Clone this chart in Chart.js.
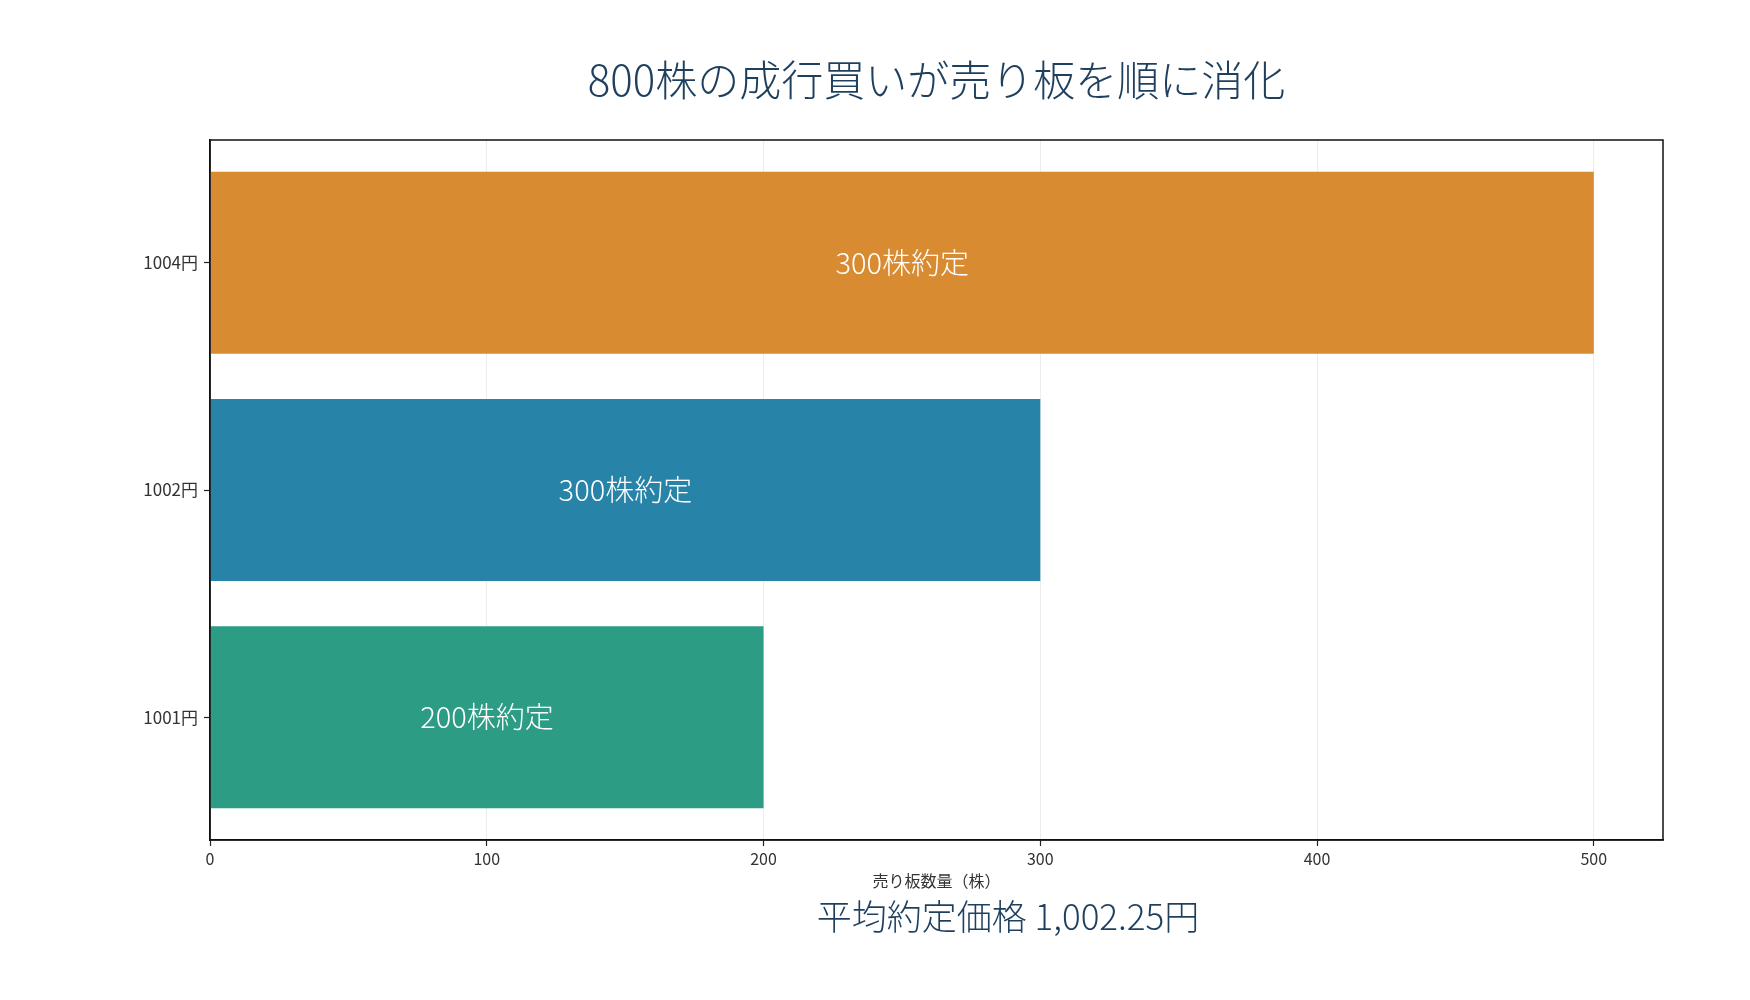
<!DOCTYPE html>
<html lang="ja">
  <head>
    <meta charset="UTF-8" />
    <title>800株の成行買いが売り板を順に消化</title>
    <style>
      html, body { margin: 0; padding: 0; background: #fff; }
      #wrap { width: 1750px; height: 1000px; }
    </style>
  </head>
  <body>
    <div id="wrap"><canvas id="myChart" width="1750" height="1000"></canvas></div>

    <script src="https://cdn.jsdelivr.net/npm/chart.js"></script>
    <script>
      // data (bottom to top)
      const priceLabels = ["1001円", "1002円", "1004円"];
      const boardQty = [200, 300, 500];
      const filledQty = [200, 300, 300];
      const barColors = ["#2c9c84", "#2883a9", "#d98b32"];
      const xTicks = [0, 100, 200, 300, 400, 500];
      const avgText = "平均約定価格 1,002.25円";

      const FONT = '"Noto Sans CJK JP", "Noto Sans", sans-serif';
      const navy = "#1e3f5e";

      // labels inside the bars + frame + average price note
      const barText = {
        id: "barText",
        afterDatasetsDraw(chart) {
          const c = chart.ctx;
          const meta = chart.getDatasetMeta(0);
          c.save();
          c.font = "300 29px " + FONT;
          c.fillStyle = "#ffffff";
          c.textAlign = "center";
          c.textBaseline = "middle";
          meta.data.forEach((bar, i) => {
            const p = bar.getCenterPoint();
            c.fillText(filledQty[i] + "株約定", p.x, p.y);
          });
          c.restore();
        },
        afterDraw(chart) {
          const c = chart.ctx;
          const a = chart.chartArea;
          c.save();
          c.strokeStyle = "#111";
          c.lineWidth = 1.5;
          c.strokeRect(a.left, a.top, a.right - a.left, a.bottom - a.top);
          c.font = "300 35px " + FONT;
          c.fillStyle = navy;
          c.textAlign = "center";
          c.textBaseline = "middle";
          c.fillText(avgText, chart.width * 0.576, 917);
          c.restore();
        },
      };

      const ctx = document.getElementById("myChart").getContext("2d");
      const myChart = new Chart(ctx, {
        type: "bar",
        data: {
          datasets: [
            {
              data: boardQty.map((v, i) => ({ x: v, y: i })),
              backgroundColor: barColors,
              borderWidth: 0,
              categoryPercentage: 1.0,
              barPercentage: 0.8,
            },
          ],
        },
        options: {
          indexAxis: "y",
          responsive: false,
          animation: false,
          layout: { padding: { left: 0, right: 87, top: 0, bottom: 103.4 } },
          scales: {
            x: {
              type: "linear",
              min: 0,
              max: 525,
              afterBuildTicks: (axis) => {
                axis.ticks = xTicks.map((v) => ({ value: v }));
              },
              afterFit: (axis) => {
                axis.height = 56.6;
              },
              grid: {
                color: "#ececec",
                lineWidth: 1,
                drawTicks: true,
                tickLength: 6,
                tickColor: "#222",
                tickWidth: 1.2,
              },
              border: { display: true, color: "#111", width: 1.5 },
              ticks: {
                color: "#333",
                padding: 3,
                maxRotation: 0,
                font: { family: FONT, size: 16 },
              },
              title: {
                display: true,
                text: "売り板数量（株）",
                color: "#333",
                padding: { top: 0, bottom: 6 },
                font: { family: FONT, size: 16 },
              },
            },
            y: {
              type: "linear",
              offset: false,
              min: -0.54,
              max: 2.54,
              afterBuildTicks: (axis) => {
                axis.ticks = priceLabels.map((p, i) => ({ value: i }));
              },
              afterFit: (axis) => {
                axis.width = 210;
              },
              grid: {
                offset: false,
                drawOnChartArea: false,
                drawTicks: true,
                tickLength: 6,
                tickColor: "#222",
                tickWidth: 1.2,
              },
              border: { display: true, color: "#111", width: 1.5 },
              ticks: {
                color: "#333",
                padding: 6,
                font: { family: FONT, size: 17 },
                callback: (v) => priceLabels[v],
              },
            },
          },
          plugins: {
            legend: { display: false },
            tooltip: { enabled: false },
            title: {
              display: true,
              fullSize: false,
              text: "800株の成行買いが売り板を順に消化",
              color: navy,
              font: { family: FONT, size: 42, weight: 300, lineHeight: 1.2 },
              padding: { top: 54.8, bottom: 34.8 },
            },
          },
        },
        plugins: [barText],
      });
    </script>
  </body>
</html>
